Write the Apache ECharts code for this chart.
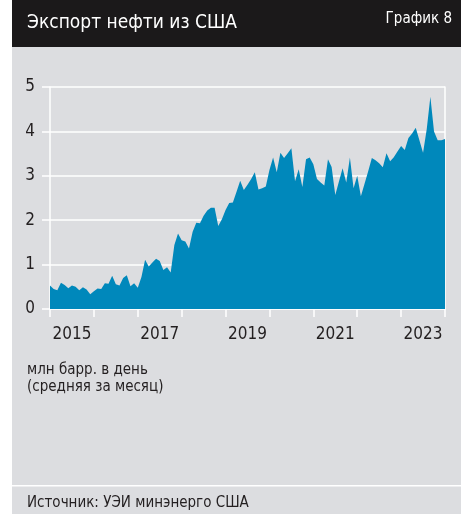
<!DOCTYPE html>
<html><head><meta charset="utf-8">
<script src="https://cdn.jsdelivr.net/npm/echarts@6/dist/echarts.min.js"></script>
<style>html,body{margin:0;padding:0;background:#fff}#c{width:468px;height:514px}</style>
</head><body><div id="c"></div>
<script>
// Monthly US crude exports, mln bbl/day, Jan 2015 .. Jan 2024
var startYear = 2015;
var exportsMbd = [
 0.53,0.45,0.42,0.59,0.54,0.47,0.53,0.50,0.42,0.49,0.44,0.33,
 0.40,0.46,0.45,0.58,0.57,0.75,0.56,0.53,0.70,0.76,0.51,0.58,
 0.48,0.72,1.11,0.96,1.05,1.13,1.08,0.88,0.94,0.82,1.44,1.70,
 1.55,1.52,1.36,1.74,1.94,1.93,2.10,2.22,2.28,2.28,1.87,2.02,
 2.23,2.39,2.40,2.64,2.89,2.68,2.80,2.93,3.08,2.69,2.72,2.76,
 3.13,3.41,3.08,3.52,3.40,3.51,3.62,2.88,3.15,2.75,3.37,3.41,
 3.26,2.93,2.85,2.78,3.37,3.20,2.57,2.87,3.17,2.85,3.41,2.72,
 3.00,2.54,2.82,3.10,3.40,3.35,3.28,3.19,3.51,3.33,3.42,3.55,
 3.67,3.58,3.85,3.95,4.08,3.80,3.52,4.05,4.78,4.00,3.80,3.80,
 3.83
];
var yearLabels = ['2015','2016','2017','2018','2019','2020','2021','2022','2023'];
var yTicks = [0,1,2,3,4,5];

var title = 'Экспорт нефти из США';
var chartNo = 'График 8';
var unitLine1 = 'млн барр. в день';
var unitLine2 = '(средняя за месяц)';
var source = 'Источник: УЭИ минэнерго США';

var FONT = '"Liberation Sans Narrow","DejaVu Sans Condensed","Roboto",sans-serif';
var GRAY = '#dcdde0';
var BLUE = '#0088bb';
var INK = '#231f20';

var seriesData = exportsMbd.map(function(v,i){return [i,v];});

var chart = echarts.init(document.getElementById('c'), null, {renderer:'canvas'});
chart.setOption({
  animation:false,
  backgroundColor:'#ffffff',
  graphic:[
    {type:'rect', z:-10, shape:{x:12,y:0,width:449,height:47}, style:{fill:'#1b191a'}},
    {type:'rect', z:-10, shape:{x:12,y:47,width:449,height:467}, style:{fill:GRAY}},
    {type:'rect', z:-9, shape:{x:12,y:485,width:449,height:1.5}, style:{fill:'#ffffff'}},
    {type:'text', left:27, top:14, style:{text:title, fill:'#ffffff', font:'19px '+FONT}},
    {type:'text', right:16, top:12, style:{text:chartNo, fill:'#ffffff', font:'15px '+FONT}},
    {type:'text', left:27, top:362, style:{text:unitLine1+'\n'+unitLine2, fill:INK, font:'15px '+FONT, lineHeight:17}},
    {type:'text', left:27, top:496, style:{text:source, fill:INK, font:'15px '+FONT}}
  ],
  grid:{left:50, right:23, top:87, bottom:205, containLabel:false},
  xAxis:[
    {type:'value', min:0, max:exportsMbd.length-1, interval:12,
     axisLine:{show:true, lineStyle:{color:'#ffffff', width:1.5}},
     axisTick:{show:true, length:8, lineStyle:{color:'#ffffff', width:1.5}},
     axisLabel:{show:false}, splitLine:{show:false}},
    {type:'category', data:yearLabels, position:'bottom', boundaryGap:true,
     axisLine:{show:false}, axisTick:{show:false},
     axisLabel:{interval:1, color:INK, fontSize:17, fontFamily:FONT, margin:17}}
  ],
  yAxis:[
    {type:'value', min:yTicks[0], max:yTicks[yTicks.length-1], interval:1,
     axisLine:{show:true, lineStyle:{color:'#ffffff', width:1.5}},
     axisTick:{show:true, length:8, lineStyle:{color:'#ffffff', width:1.5}},
     axisLabel:{color:INK, fontSize:17, fontFamily:FONT, margin:15},
     splitLine:{show:true, lineStyle:{color:'#ffffff', width:1.5}}},
    {type:'value', min:0, max:5, position:'right',
     axisLine:{show:true, lineStyle:{color:'#ffffff', width:1.5}},
     axisTick:{show:false}, axisLabel:{show:false}, splitLine:{show:false}}
  ],
  series:[{
    type:'line', xAxisIndex:0, yAxisIndex:0, data:seriesData,
    showSymbol:false, smooth:false,
    lineStyle:{width:0, color:BLUE},
    areaStyle:{color:BLUE, opacity:1}
  }]
});
</script></body></html>
